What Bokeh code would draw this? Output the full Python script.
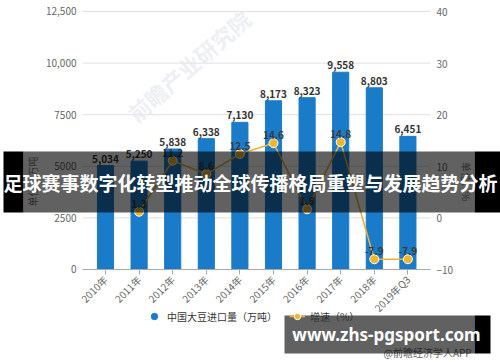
import math
from bokeh.plotting import figure
from bokeh.models import (Range1d, LinearAxis, FixedTicker, ColumnDataSource, Legend, LegendItem,
                          BoxAnnotation, Label)
from bokeh.core.properties import value
from bokeh.embed import file_html
from bokeh.resources import INLINE

# ---- data ----
categories = ["2010年", "2011年", "2012年", "2013年", "2014年", "2015年", "2016年", "2017年", "2018年", "2019年Q3"]
imports = [5034, 5250, 5838, 6338, 7130, 8173, 8323, 9558, 8803, 6451]
growth = [float("nan"), 1.3, 11.2, 8.6, 12.5, 14.6, 1.8, 14.8, -7.9, -7.9]
left_ticks = [0, 2500, 5000, 7500, 10000, 12500]
left_tick_labels = ["0", "2500", "5000", "7500", "10,000", "12,500"]
right_ticks = [-10, 0, 10, 20, 30, 40]
series_names = ["中国大豆进口量（万吨）", "增速（%）"]
left_title = "单位：万吨"
right_title = "单位：%"
banner_text = "足球赛事数字化转型推动全球传播格局重塑与发展趋势分析"
site_text = "www.zhs-pgsport.com"
source_text = "@前瞻经济学人APP"
watermark_text = "前瞻产业研究院"

xs = list(range(len(categories)))
bar_src = ColumnDataSource(dict(x=xs, y=imports, lbl=[f"{v:,}" for v in imports]))
g_x = [x for x, g in zip(xs, growth) if not math.isnan(g)]
g_y = [g for g in growth if not math.isnan(g)]
line_src = ColumnDataSource(dict(x=g_x, y=g_y, lbl=[f"{g:.1f}" for g in g_y]))

FONT = "Noto Sans CJK SC"
BLUE = "#1a7bc9"
GOLD = "#e6b23a"

# the frame covers the whole canvas; the axes are placed at fixed locations inside it
X_LO, X_HI = -0.6845, 9.673          # horizontal extent of the chart area
p = figure(width=500, height=362, output_backend="svg", toolbar_location=None, title=None,
           x_range=Range1d(-3.125, 11.756), y_range=Range1d(-4505.8, 13032.9),
           min_border=0, x_axis_location=None, y_axis_location=None)
p.extra_y_ranges = {"right": Range1d(-27.907, 42.248)}
p.outline_line_color = None
p.background_fill_color = "white"
p.border_fill_color = "white"
p.xgrid.visible = False
p.ygrid.visible = False

# bottom axis
xa = LinearAxis(ticker=FixedTicker(ticks=xs), fixed_location=0, bounds=(X_LO, X_HI))
xa.major_label_overrides = {i: c for i, c in enumerate(categories)}
xa.major_label_orientation = math.pi / 4
xa.axis_line_color = "#a8a8a8"
xa.major_tick_line_color = "#a8a8a8"
xa.major_tick_out = 5
xa.major_tick_in = 0
xa.minor_tick_line_color = None
xa.major_label_text_font = FONT
xa.major_label_text_font_size = "10px"
xa.major_label_text_color = "#666666"
xa.major_label_standoff = 3
p.add_layout(xa, "below")

# left axis
ya = LinearAxis(ticker=FixedTicker(ticks=left_ticks), fixed_location=X_LO)
ya.major_label_overrides = {t: s for t, s in zip(left_ticks, left_tick_labels)}
ya.axis_line_color = None
ya.major_tick_line_color = None
ya.minor_tick_line_color = None
ya.major_tick_out = 0
ya.major_label_standoff = 6
ya.major_label_text_font = FONT
ya.major_label_text_font_size = "10px"
ya.major_label_text_color = "#666666"
ya.axis_label = left_title
ya.axis_label_text_font = FONT
ya.axis_label_text_font_size = "10px"
ya.axis_label_text_font_style = "normal"
ya.axis_label_text_color = "#777777"
ya.axis_label_standoff = 3
p.add_layout(ya, "left")

# right axis
ra = LinearAxis(y_range_name="right", ticker=FixedTicker(ticks=right_ticks), fixed_location=X_HI)
ra.axis_line_color = None
ra.major_tick_line_color = None
ra.minor_tick_line_color = None
ra.major_tick_out = 0
ra.major_label_standoff = 6
ra.major_label_text_font = FONT
ra.major_label_text_font_size = "10px"
ra.major_label_text_color = "#666666"
ra.axis_label = right_title
ra.axis_label_text_font = FONT
ra.axis_label_text_font_size = "10px"
ra.axis_label_text_font_style = "normal"
ra.axis_label_text_color = "#777777"
ra.axis_label_standoff = 3
p.add_layout(ra, "right")

# horizontal grid lines at the left-axis ticks, limited to the chart area
p.segment(x0=[X_LO] * len(left_ticks), x1=[X_HI] * len(left_ticks), y0=left_ticks, y1=left_ticks,
          line_color="#e0e0e0", line_width=1, level="underlay")

# faint watermark
p.add_layout(Label(x=188, y=297, x_units="screen", y_units="screen", text=watermark_text,
                   angle=0.72, text_align="center", text_baseline="middle",
                   text_font=FONT, text_font_style="bold", text_font_size="22px",
                   text_color="#e6e9ee", text_alpha=0.7, level="underlay"))

# bars
bars = p.vbar(x="x", top="y", width=0.48, source=bar_src, color=BLUE)
p.text(x="x", y="y", text="lbl", source=bar_src, text_align="center", text_baseline="bottom",
       y_offset=-3, text_font=value(FONT), text_font_style="bold", text_font_size="10px",
       text_color="#333333")

# line
ln = p.line(x="x", y="y", source=line_src, y_range_name="right", line_color=GOLD, line_width=1.6)
pts = p.scatter(x="x", y="y", source=line_src, y_range_name="right", size=9,
                fill_color="#f0b52d", line_color="#ffffff", line_width=1)
p.text(x="x", y="y", text="lbl", source=line_src, y_range_name="right", text_align="center",
       text_baseline="bottom", y_offset=-4, text_font=value(FONT), text_font_style="bold",
       text_font_size="10px", text_color="#3a3a3a")

# legend proxy for bar series (circle marker, not drawn in the plot: NaN position)
proxy = p.scatter(x=[float("nan")], y=[float("nan")], size=10, marker="circle",
                  fill_color=BLUE, line_color=BLUE)
legend = Legend(items=[LegendItem(label=series_names[0], renderers=[proxy], index=0),
                       LegendItem(label=series_names[1], renderers=[ln, pts])],
                location=(146, 38), orientation="horizontal", padding=0, margin=0, spacing=12,
                glyph_width=16, glyph_height=16, label_standoff=5,
                border_line_color=None, background_fill_alpha=0,
                label_text_font=FONT, label_text_font_size="10px", label_text_color="#333333")
p.add_layout(legend, "center")

# source text
p.add_layout(Label(x=383, y=10, x_units="screen", y_units="screen", text=source_text,
                   text_align="left", text_baseline="middle", text_font=FONT,
                   text_font_size="10px", text_color="#666666"))

def box(l, r, b, t, alpha):
    return BoxAnnotation(left=l, right=r, bottom=b, top=t, left_units="screen",
                         right_units="screen", bottom_units="screen", top_units="screen",
                         fill_color="black", fill_alpha=alpha, line_color=None, level="overlay")

# banner overlay
p.add_layout(box(23, 474, 150, 211, 0.62))
p.add_layout(box(3, 23, 150, 211, 1.0))
p.add_layout(box(474, 500, 150, 211, 1.0))
p.add_layout(Label(x=250, y=180.5, x_units="screen", y_units="screen", text=banner_text,
                   text_align="center", text_baseline="middle", text_font=FONT,
                   text_font_style="bold", text_font_size="19px", text_color="white", level="overlay"))

# site overlay
p.add_layout(box(284, 474, 9, 47, 0.62))
p.add_layout(box(474, 490, 9, 47, 1.0))
p.add_layout(Label(x=386, y=28, x_units="screen", y_units="screen", text=site_text,
                   text_align="center", text_baseline="middle", text_font="Noto Sans",
                   text_font_style="bold", text_font_size="17px", text_color="white", level="overlay"))

open("out.html", "w").write(file_html(p, INLINE))
